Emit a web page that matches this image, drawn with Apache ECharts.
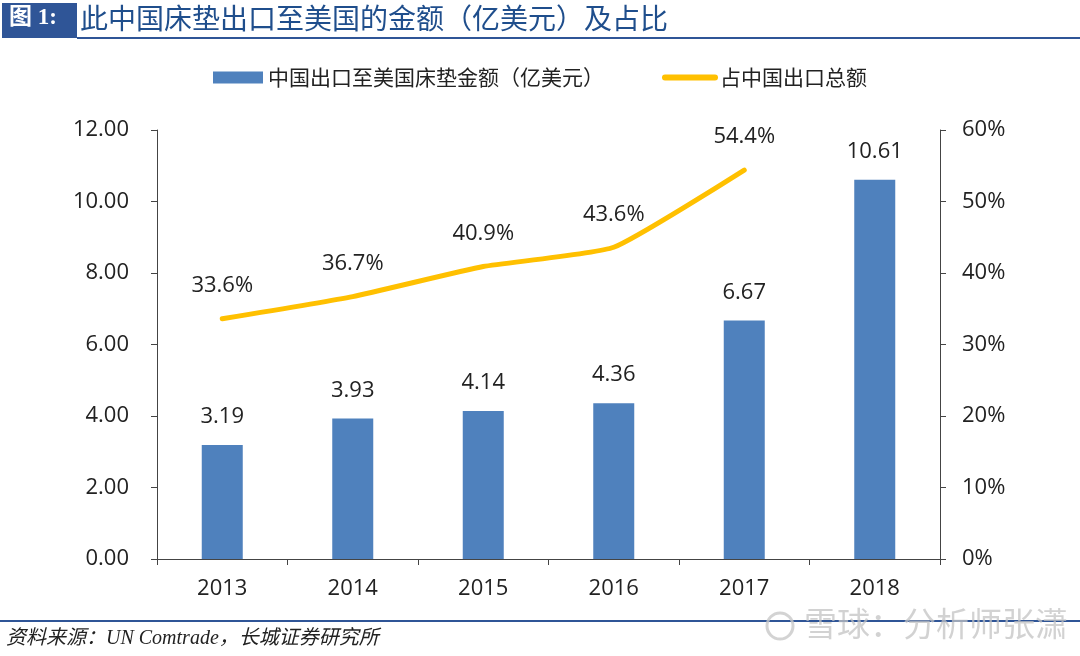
<!DOCTYPE html>
<html>
<head>
<meta charset="utf-8">
<script src="https://cdn.jsdelivr.net/npm/echarts@6/dist/echarts.min.js"></script>
<style>html,body{margin:0;padding:0;background:#fff}#c{width:1080px;height:656px}</style>
</head>
<body>
<div id="c"></div>
<script>
const years = ['2013','2014','2015','2016','2017','2018'];
const exportValues = [3.19, 3.93, 4.14, 4.36, 6.67, 10.61];
const shareValues = [33.6, 36.7, 40.9, 43.6, 54.4, null];
const barName = '中国出口至美国床垫金额（亿美元）';
const lineName = '占中国出口总额';

const FONT = '"Open Sans","Noto Sans CJK SC",sans-serif';
const chart = echarts.init(document.getElementById('c'), null, {renderer:'canvas'});
chart.setOption({
  backgroundColor:'#fff',
  animation:false,
  textStyle:{fontFamily:FONT},
  grid:{left:157,right:140,top:130,bottom:97},
  legend:{
    top:62,left:'center',itemGap:58,itemWidth:50,itemHeight:12,
    textStyle:{fontSize:21,color:'#222',fontFamily:'"Noto Sans CJK SC",sans-serif'},
    data:[
      {name:barName,icon:'rect'},
      {name:lineName,itemStyle:{opacity:0},lineStyle:{width:6,cap:'round',color:'#FFC000'}}
    ]
  },
  xAxis:{
    type:'category',data:years,
    axisLine:{lineStyle:{color:'#444',width:1}},
    axisTick:{show:true,length:6,lineStyle:{color:'#444'}},
    axisLabel:{fontSize:22,color:'#222',margin:19,fontFamily:FONT}
  },
  yAxis:[{
    type:'value',min:0,max:12,interval:2,
    axisLine:{show:true,lineStyle:{color:'#444'}},
    axisTick:{show:true,length:6,lineStyle:{color:'#444'}},
    splitLine:{show:false},
    axisLabel:{fontSize:22,color:'#222',margin:28,formatter:v=>v.toFixed(2),fontFamily:FONT}
  },{
    type:'value',min:0,max:60,interval:10,position:'right',
    axisLine:{show:true,lineStyle:{color:'#444'}},
    axisTick:{show:true,length:6,lineStyle:{color:'#444'}},
    splitLine:{show:false},
    axisLabel:{fontSize:22,color:'#222',margin:22,formatter:'{value}%',fontFamily:FONT}
  }],
  series:[{
    name:barName,type:'bar',data:exportValues,barWidth:41,
    itemStyle:{color:'#4F81BD'},
    label:{show:true,position:'top',distance:17,fontSize:22,color:'#222',fontFamily:FONT,formatter:p=>p.value.toFixed(2)}
  },{
    name:lineName,type:'line',yAxisIndex:1,data:shareValues,
    symbol:'circle',symbolSize:0,showSymbol:true,smooth:0.15,
    lineStyle:{color:'#FFC000',width:5,cap:'round'},
    itemStyle:{color:'#FFC000'},
    label:{show:true,position:'top',distance:22,fontSize:22,color:'#222',fontFamily:FONT,formatter:p=>p.value.toFixed(1)+'%'}
  }],
  graphic:[
    {type:'rect',shape:{x:2,y:3,width:75,height:35},style:{fill:'#2F5597'}},
    {type:'text',left:9,top:7,style:{text:'图 1:',fill:'#fff',font:'bold 23px "Liberation Serif","Noto Sans CJK SC",serif'}},
    {type:'line',shape:{x1:77,y1:38,x2:1080,y2:38},style:{stroke:'#2F5597',lineWidth:2}},
    {type:'text',left:80,top:4,style:{text:'此中国床垫出口至美国的金额（亿美元）及占比',fill:'#1F4E8C',font:'28px "Noto Sans CJK SC",sans-serif'}},
    {type:'line',shape:{x1:0,y1:621,x2:1080,y2:621},style:{stroke:'#2F5597',lineWidth:2}},
    {type:'text',left:6,top:629,style:{text:'资料来源：UN Comtrade，长城证券研究所',fill:'#222',font:'italic 20px "Liberation Serif","Noto Sans CJK SC",serif'}},
    {type:'circle',shape:{cx:780,cy:626,r:13},style:{fill:'none',stroke:'rgba(200,200,200,0.8)',lineWidth:3}},
    {type:'text',left:804,top:607,style:{text:'雪球：分析师张潇',fill:'rgba(195,195,195,0.75)',font:'33px "Noto Sans CJK SC",sans-serif'}}
  ]
});
</script>
</body>
</html>
